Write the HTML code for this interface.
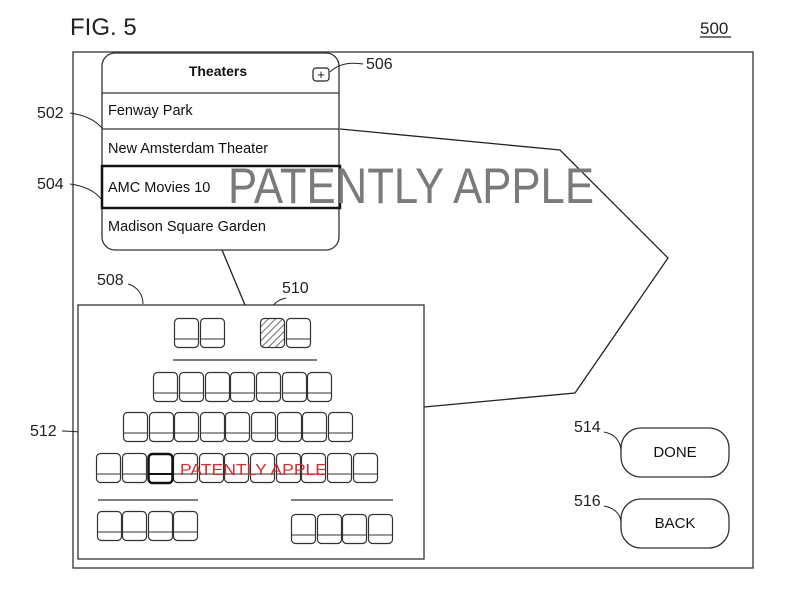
<!DOCTYPE html>
<html><head><meta charset="utf-8"><style>
html,body{margin:0;padding:0;background:#fff;}
svg{display:block;}
text{font-family:"Liberation Sans",sans-serif;}
</style></head><body>
<svg width="800" height="595" viewBox="0 0 800 595" xmlns="http://www.w3.org/2000/svg">
<defs>
<pattern id="hatch" width="5" height="5" patternUnits="userSpaceOnUse" patternTransform="rotate(45)">
<line x1="0" y1="0" x2="0" y2="5" stroke="#222" stroke-width="1.3"/>
</pattern>
<g id="seat">
<rect x="0.5" y="0.5" width="24" height="29" rx="4" fill="none" stroke="#333" stroke-width="1.2"/>
<line x1="1" y1="21" x2="24" y2="21" stroke="#333" stroke-width="1.1"/>
</g>
</defs>
<text x="70" y="35" font-size="24" fill="#222">FIG. 5</text>
<text x="700" y="34" font-size="17" fill="#222">500</text>
<line x1="700" y1="37" x2="731" y2="37" stroke="#222" stroke-width="1.2"/>
<!-- frame -->
<rect x="73" y="52" width="680" height="516" fill="none" stroke="#333" stroke-width="1.3"/>
<!-- connector polygon -->
<polyline points="340,129 560,150 668,258 575,393 424,407" fill="none" stroke="#222" stroke-width="1.3"/>
<line x1="222" y1="250" x2="245" y2="305" stroke="#222" stroke-width="1.3"/>
<!-- theaters panel -->
<rect x="102" y="53" width="237" height="197" rx="13" fill="#fff" stroke="#333" stroke-width="1.3"/>
<text x="218" y="76" font-size="14" font-weight="bold" text-anchor="middle" fill="#111">Theaters</text>
<rect x="313" y="68" width="16" height="13" rx="3" fill="none" stroke="#222" stroke-width="1.2"/>
<text x="321" y="79" font-size="13" text-anchor="middle" fill="#111">+</text>
<line x1="102" y1="93" x2="339" y2="93" stroke="#333" stroke-width="1.2"/>
<text x="108" y="115" font-size="14.5" fill="#111">Fenway Park</text>
<line x1="102" y1="129" x2="339" y2="129" stroke="#333" stroke-width="1.2"/>
<text x="108" y="153" font-size="14.5" fill="#111">New Amsterdam Theater</text>
<text x="108" y="231" font-size="14.5" fill="#111">Madison Square Garden</text>
<rect x="102" y="166" width="238" height="42" fill="none" stroke="#111" stroke-width="2.5"/>
<text x="108" y="192" font-size="14.5" fill="#111">AMC Movies 10</text>
<text x="228" y="203" font-size="50" fill="#7a7a7a" textLength="366" lengthAdjust="spacingAndGlyphs">PATENTLY APPLE</text>
<!-- labels left -->
<text x="37" y="118" font-size="16" fill="#222">502</text>
<path d="M70,113 C85,115 95,120 102,128" fill="none" stroke="#222" stroke-width="1"/>
<text x="37" y="189" font-size="16" fill="#222">504</text>
<path d="M70,184 C85,186 96,192 102,200" fill="none" stroke="#222" stroke-width="1"/>
<text x="366" y="69" font-size="16" fill="#222">506</text>
<path d="M363,64 C350,62 338,64 330,72" fill="none" stroke="#222" stroke-width="1"/>
<text x="97" y="285" font-size="16" fill="#222">508</text>
<path d="M128,284 C138,287 143,295 143,304" fill="none" stroke="#222" stroke-width="1"/>
<text x="282" y="293" font-size="16" fill="#222">510</text>
<path d="M286,298 C276,300 270,306 269,318" fill="none" stroke="#222" stroke-width="1"/>
<text x="30" y="436" font-size="16" fill="#222">512</text>
<path d="M62,431 C95,432 130,438 150,454" fill="none" stroke="#222" stroke-width="1"/>
<!-- seat map -->
<rect x="78" y="305" width="346" height="254" fill="#fff" stroke="#333" stroke-width="1.3"/>
<use href="#seat" x="174" y="318"/><use href="#seat" x="200" y="318"/>
<rect x="260.5" y="318.5" width="24" height="29" rx="4" fill="url(#hatch)" stroke="#333" stroke-width="1.2"/>
<use href="#seat" x="286" y="318"/>
<line x1="173" y1="360" x2="317" y2="360" stroke="#333" stroke-width="1.3"/>
<g>
<use href="#seat" x="153" y="372"/><use href="#seat" x="179" y="372"/><use href="#seat" x="205" y="372"/><use href="#seat" x="230" y="372"/><use href="#seat" x="256" y="372"/><use href="#seat" x="282" y="372"/><use href="#seat" x="307" y="372"/>
</g>
<g>
<use href="#seat" x="123" y="412"/><use href="#seat" x="149" y="412"/><use href="#seat" x="174" y="412"/><use href="#seat" x="200" y="412"/><use href="#seat" x="225" y="412"/><use href="#seat" x="251" y="412"/><use href="#seat" x="277" y="412"/><use href="#seat" x="302" y="412"/><use href="#seat" x="328" y="412"/>
</g>
<g>
<use href="#seat" x="96" y="453"/><use href="#seat" x="122" y="453"/><use href="#seat" x="173" y="453"/><use href="#seat" x="199" y="453"/><use href="#seat" x="224" y="453"/><use href="#seat" x="250" y="453"/><use href="#seat" x="276" y="453"/><use href="#seat" x="301" y="453"/><use href="#seat" x="327" y="453"/><use href="#seat" x="353" y="453"/>
<rect x="148.5" y="454" width="24" height="29" rx="4" fill="none" stroke="#111" stroke-width="2.5"/>
<line x1="149" y1="474" x2="172" y2="474" stroke="#111" stroke-width="2"/>
</g>
<text x="180" y="475" font-size="16" fill="#d03030" textLength="147" lengthAdjust="spacingAndGlyphs">PATENTLY APPLE</text>
<line x1="98" y1="500" x2="198" y2="500" stroke="#333" stroke-width="1.3"/>
<line x1="291" y1="500" x2="393" y2="500" stroke="#333" stroke-width="1.3"/>
<use href="#seat" x="97" y="511"/><use href="#seat" x="122" y="511"/><use href="#seat" x="148" y="511"/><use href="#seat" x="173" y="511"/>
<use href="#seat" x="291" y="514"/><use href="#seat" x="317" y="514"/><use href="#seat" x="342" y="514"/><use href="#seat" x="368" y="514"/>
<!-- buttons -->
<rect x="621" y="428" width="108" height="49" rx="20" fill="#fff" stroke="#333" stroke-width="1.3"/>
<text x="675" y="457" font-size="15" text-anchor="middle" fill="#111">DONE</text>
<rect x="621" y="499" width="108" height="49" rx="20" fill="#fff" stroke="#333" stroke-width="1.3"/>
<text x="675" y="528" font-size="15" text-anchor="middle" fill="#111">BACK</text>
<text x="574" y="432" font-size="16" fill="#222">514</text>
<path d="M604,432 C614,434 620,440 621,450" fill="none" stroke="#222" stroke-width="1"/>
<text x="574" y="506" font-size="16" fill="#222">516</text>
<path d="M604,506 C614,508 620,513 621,522" fill="none" stroke="#222" stroke-width="1"/>
</svg>
</body></html>
